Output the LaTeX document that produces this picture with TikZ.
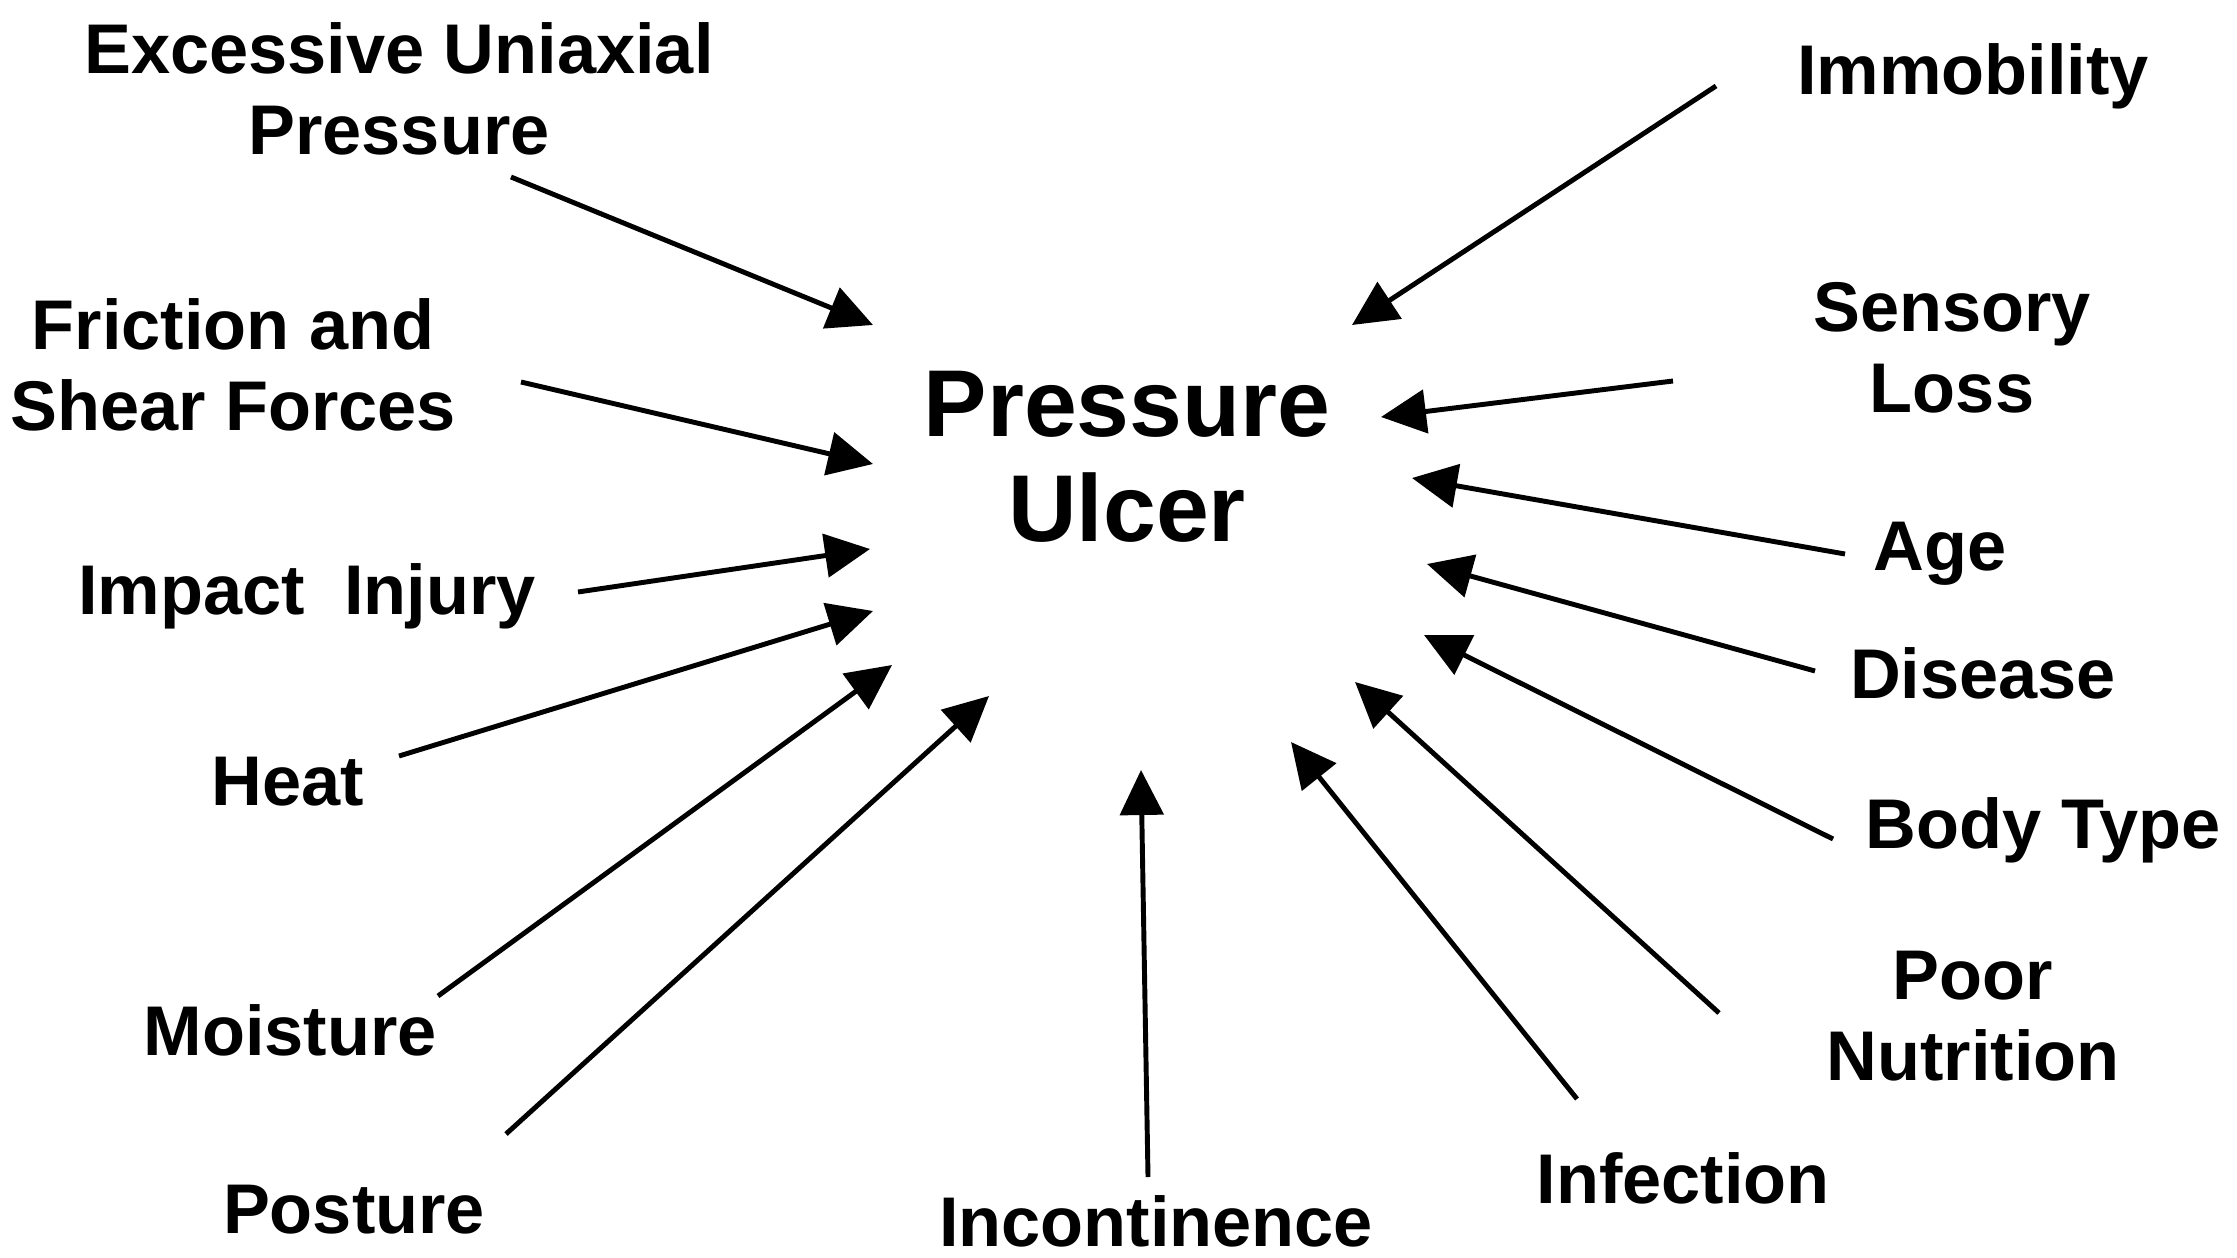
\documentclass[tikz,border=0pt]{standalone}
\usepackage{fontspec}
\setmainfont{Liberation Sans}
\usetikzlibrary{arrows.meta}
\begin{document}
\begin{tikzpicture}[x=0.01cm,y=-0.01cm,
  lab/.style={font=\fontsize{20}{24}\selectfont\bfseries, align=center, inner sep=0pt},
  big/.style={font=\fontsize{27}{31}\selectfont\bfseries, align=center, inner sep=0pt},
  arr/.style={line width=1.4pt, -{Triangle[length=12.8pt,width=12.3pt]}}]
\useasboundingbox (0,0) rectangle (2237,1258);
\node[big] (pu) at (1127,457) {Pressure\\[-1pt]Ulcer};
\node[lab] (eup) at (399,89) {Excessive Uniaxial\\[-1pt]Pressure};
\node[lab] (fsf) at (233,365) {Friction and\\[-1pt]Shear Forces};
\node[lab] (imp) at (307,596) {Impact\ \ Injury};
\node[lab] (heat) at (288,782) {Heat};
\node[lab] (moi) at (290,1030) {Moisture};
\node[lab] (pos) at (354,1210) {Posture};
\node[lab] (inc) at (1156,1221) {Incontinence};
\node[lab] (inf) at (1683,1178) {Infection};
\node[lab] (pn) at (1973,1016) {Poor\\[-1pt]Nutrition};
\node[lab] (bt) at (2043,830) {Body Type};
\node[lab] (dis) at (1983,673) {Disease};
\node[lab] (age) at (1940,554) {Age};
\node[lab] (sl) at (1952,348) {Sensory\\[-1pt]Loss};
\node[lab] (imm) at (1973,76) {Immobility};
% tails
\coordinate (t1) at (511,177);  \coordinate (h1) at (873,325);
\coordinate (t2) at (521,382);  \coordinate (h2) at (873,464);
\coordinate (t3) at (578,592);  \coordinate (h3) at (870,549);
\coordinate (t4) at (399,756);  \coordinate (h4) at (873,611);
\coordinate (t5) at (438,996);  \coordinate (h5) at (892,665);
\coordinate (t6) at (506,1134); \coordinate (h6) at (989,696);
\coordinate (t7) at (1148,1177);\coordinate (h7) at (1141,770);
\coordinate (t8) at (1577,1099);\coordinate (h8) at (1291,742);
\coordinate (t9) at (1719,1013);\coordinate (h9) at (1355,682);
\coordinate (t10) at (1833,839);\coordinate (h10) at (1424,635);
\coordinate (t11) at (1815,671);\coordinate (h11) at (1427,564);
\coordinate (t12) at (1845,554);\coordinate (h12) at (1412,478);
\coordinate (t13) at (1673,381);\coordinate (h13) at (1381,417);
\coordinate (t14) at (1716,86); \coordinate (h14) at (1352,325);
\foreach \i in {1,...,14} {\draw[arr] (t\i) -- (h\i);}
\end{tikzpicture}
\end{document}
